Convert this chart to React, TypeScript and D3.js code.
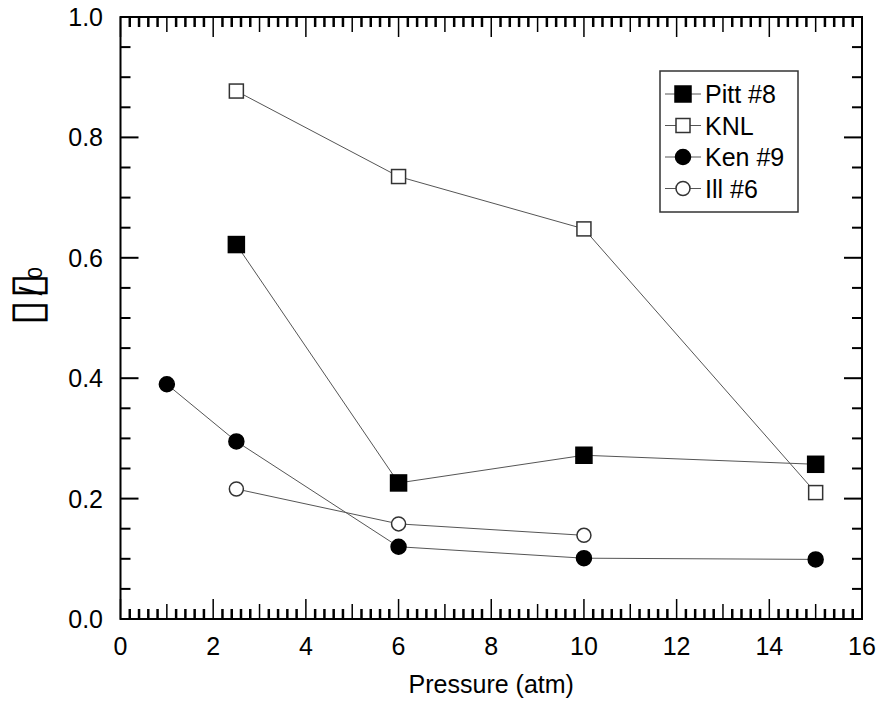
import React from "react";
import * as d3 from "d3";

const pittX = [2.5, 6, 10, 15];
const pittY = [0.622, 0.226, 0.272, 0.257];
const knlX = [2.5, 6, 10, 15];
const knlY = [0.877, 0.735, 0.648, 0.21];
const kenX = [1, 2.5, 6, 10, 15];
const kenY = [0.39, 0.295, 0.12, 0.101, 0.099];
const illX = [2.5, 6, 10];
const illY = [0.216, 0.158, 0.139];

const xTicks = [0, 2, 4, 6, 8, 10, 12, 14, 16];
const yTicks = [0, 0.2, 0.4, 0.6, 0.8, 1.0];
const seriesNames = ["Pitt #8", "KNL", "Ken #9", "Ill #6"];

const W = 878;
const H = 725;
const FONT = "'Liberation Sans', Arial, sans-serif";

type Series = { name: string; xs: number[]; ys: number[]; shape: "square" | "circle"; filled: boolean };

const series: Series[] = [
  { name: seriesNames[0], xs: pittX, ys: pittY, shape: "square", filled: true },
  { name: seriesNames[1], xs: knlX, ys: knlY, shape: "square", filled: false },
  { name: seriesNames[2], xs: kenX, ys: kenY, shape: "circle", filled: true },
  { name: seriesNames[3], xs: illX, ys: illY, shape: "circle", filled: false },
];

function Marker({ x, y, s }: { x: number; y: number; s: Series }) {
  const fill = s.filled ? "#000" : "#fff";
  if (s.shape === "square") {
    const h = s.filled ? 8 : 7;
    return (
      <rect x={x - h} y={y - h} width={2 * h} height={2 * h} fill={fill} stroke={s.filled ? "#000" : "#333"} strokeWidth={1.5} />
    );
  }
  return <circle cx={x} cy={y} r={s.filled ? 7.5 : 7} fill={fill} stroke={s.filled ? "#000" : "#333"} strokeWidth={1.5} />;
}

export default function App() {
  const x = d3.scaleLinear().domain([0, 16]).range([120.5, 862]);
  const y = d3.scaleLinear().domain([0, 1]).range([619, 17]);
  const line = d3
    .line<[number, number]>()
    .x((d) => x(d[0]))
    .y((d) => y(d[1]));

  const xMinor = d3.range(0, 80.5, 1).map((i) => i / 5);
  const yMinor = d3.range(0, 20.5, 1).map((i) => i / 20);

  const x0 = x(0), x1 = x(16), y0 = y(0), y1 = y(1);

  const legX = 660, legY = 71, legW = 138, legH = 141;
  const rowY = [94, 125.5, 157, 188.5];

  return (
    <svg width={W} height={H} style={{ display: "block", position: "absolute", left: 0, top: 0 }} fontFamily={FONT}>
      <rect x={0} y={0} width={W} height={H} fill="#fff" />
      {/* x ticks */}
      {xMinor.map((v, i) => {
        const major = i % 10 === 0;
        const mid = i % 5 === 0;
        const len = major ? 20 : mid ? 15 : 10;
        const sw = major || mid ? 1.5 : 2.5;
        const px = x(v);
        return (
          <g key={"xt" + i}>
            <line x1={px} x2={px} y1={y0} y2={y0 - len} stroke="#000" strokeWidth={sw} />
            <line x1={px} x2={px} y1={y1} y2={y1 + len} stroke="#000" strokeWidth={sw} />
          </g>
        );
      })}
      {/* y ticks */}
      {yMinor.map((v, i) => {
        const len = i % 4 === 0 ? 18 : 10;
        const py = y(v);
        return (
          <g key={"yt" + i}>
            <line x1={x0} x2={x0 + len} y1={py} y2={py} stroke="#000" strokeWidth={2} />
            <line x1={x1} x2={x1 - len} y1={py} y2={py} stroke="#000" strokeWidth={2} />
          </g>
        );
      })}
      <rect x={x0} y={y1} width={x1 - x0} height={y0 - y1} fill="none" stroke="#000" strokeWidth={2} />
      {/* tick labels */}
      {xTicks.map((v) => (
        <text key={"xl" + v} x={x(v)} y={655} textAnchor="middle" fontSize={25} fill="#000">
          {v}
        </text>
      ))}
      {yTicks.map((v) => (
        <text key={"yl" + v} x={103} y={y(v) + 9} textAnchor="end" fontSize={25} fill="#000">
          {v.toFixed(1)}
        </text>
      ))}
      <text x={(x0 + x1) / 2} y={693} textAnchor="middle" fontSize={25} fill="#000">
        Pressure (atm)
      </text>
      {/* y axis label: glyph boxes as in the reference */}
      <g fill="#000">
        <text transform="translate(42,312.5) rotate(-90)" textAnchor="middle" fontSize={46} fontFamily="'DejaVu Sans', sans-serif">▯</text>
        <text transform="translate(42,285.5) rotate(-90)" textAnchor="middle" fontSize={46} fontFamily="'DejaVu Sans', sans-serif">▯</text>
        <text transform="translate(42,291) rotate(-90)" textAnchor="middle" fontSize={32}>/</text>
        <text transform="translate(42,273) rotate(-90)" textAnchor="middle" fontSize={21}>0</text>
      </g>
      {/* series */}
      {series.map((s, si) => (
        <g key={"s" + si}>
          <path d={line(s.xs.map((v, i) => [v, s.ys[i]] as [number, number])) || ""} fill="none" stroke="#555" strokeWidth={1} />
          {s.xs.map((v, i) => (
            <Marker key={i} x={x(v)} y={y(s.ys[i])} s={s} />
          ))}
        </g>
      ))}
      {/* legend */}
      <rect x={legX} y={legY} width={legW} height={legH} fill="#fff" stroke="#333" strokeWidth={1.5} />
      {series.map((s, i) => (
        <g key={"lg" + i}>
          <line x1={665} x2={701} y1={rowY[i]} y2={rowY[i]} stroke="#555" strokeWidth={1} />
          <Marker x={683} y={rowY[i]} s={s} />
          <text x={705} y={rowY[i] + 9} fontSize={25} fill="#000">
            {s.name}
          </text>
        </g>
      ))}
    </svg>
  );
}
